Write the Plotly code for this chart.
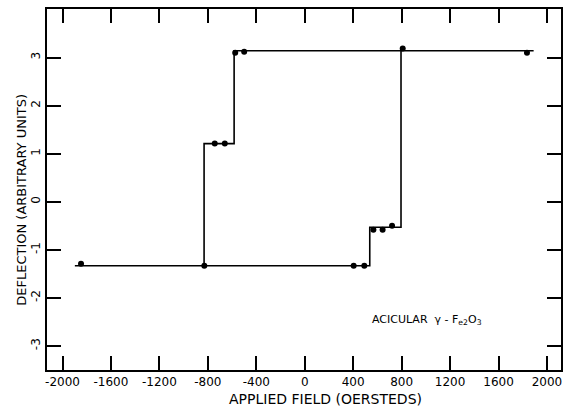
import plotly.graph_objects as go

# Step-curve branches (applied field in Oe, deflection in arbitrary units)
branch_a_x = [-1898, 537, 537, 795, 795, 1890]
branch_a_y = [-1.33, -1.33, -0.53, -0.53, 3.14, 3.14]
branch_b_x = [795, -583, -583, -831, -831]
branch_b_y = [3.14, 3.14, 1.21, 1.21, -1.33]

# Measured points
pts_x = [-1847, -829, -743, -660, -574, -500, 404, 492, 567, 643, 721, 809, 1835]
pts_y = [-1.29, -1.33, 1.21, 1.21, 3.10, 3.12, -1.33, -1.33, -0.58, -0.58, -0.50, 3.19, 3.10]

x_ticks = [-2000, -1600, -1200, -800, -400, 0, 400, 800, 1200, 1600, 2000]
x_tick_labels = ["-2000", "-1600", "-1200", "-800", "-400", "0", "400", "800", "1200", "1600", "2000"]
y_ticks = [-3, -2, -1, 0, 1, 2, 3]
y_tick_labels = ["-3", "-2", "-1", "0", "1", "2", "3"]

FONT = "DejaVu Sans"

fig = go.Figure()
fig.add_trace(go.Scatter(x=branch_a_x, y=branch_a_y, mode="lines",
                         line=dict(color="black", width=1.6), showlegend=False))
fig.add_trace(go.Scatter(x=branch_b_x, y=branch_b_y, mode="lines",
                         line=dict(color="black", width=1.6), showlegend=False))
fig.add_trace(go.Scatter(x=pts_x, y=pts_y, mode="markers",
                         marker=dict(color="black", size=6), showlegend=False))

axis_common = dict(showgrid=False, zeroline=False, showline=True, linecolor="black",
                   linewidth=1.6, mirror="ticks", ticks="inside", tickcolor="black",
                   tickwidth=1.6, ticklen=14, automargin=False)

fig.update_xaxes(range=[-2128, 2116], tickvals=x_ticks, ticktext=x_tick_labels,
                 tickfont=dict(family=FONT, size=12, color="black"), **axis_common)
fig.update_yaxes(range=[-3.5, 4.01], tickvals=y_ticks, ticktext=y_tick_labels,
                 tickangle=-90,
                 tickfont=dict(family=FONT, size=12, color="black"), **axis_common)

fig.add_annotation(text="DEFLECTION (ARBITRARY UNITS)", xref="paper", yref="paper",
                   x=-0.0675, y=0.471, textangle=-90, showarrow=False,
                   font=dict(family=FONT, size=13, color="black"))
fig.add_annotation(text="APPLIED FIELD (OERSTEDS)", xref="paper", yref="paper",
                   x=0.541, y=-0.108, showarrow=False,
                   font=dict(family=FONT, size=14, color="black"))
fig.add_annotation(text="ACICULAR  γ - F<sub>e2</sub>O<sub>3</sub>", x=537, y=-2.46,
                   xanchor="left", showarrow=False,
                   font=dict(family=FONT, size=11, color="black"))

fig.update_layout(width=564, height=418, plot_bgcolor="white", paper_bgcolor="white",
                  margin=dict(l=47, r=3, t=9, b=48))

fig.write_html("out.html", config={"displayModeBar": False},
               post_script="document.body.style.margin='0';document.body.style.padding='0';")
